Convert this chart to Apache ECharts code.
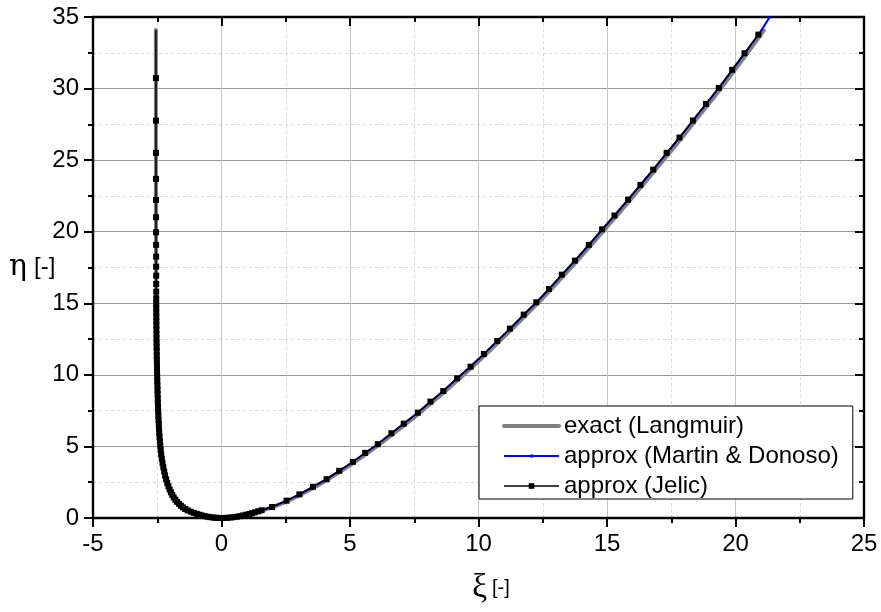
<!DOCTYPE html>
<html>
<head>
<meta charset="utf-8">
<script src="https://cdn.jsdelivr.net/npm/echarts@6/dist/echarts.min.js"></script>
<style>
  html, body { margin: 0; padding: 0; background: #fff; }
  #chart { width: 881px; height: 612px; }
</style>
</head>
<body>
<div id="chart"></div>
<script>
// Space-charge potential: normalised distance xi vs normalised potential eta.

// Axis ranges
const xMin = -5, xMax = 25, xStep = 5;
const yMin = 0, yMax = 35, yStep = 5;

// Legend entries
const seriesNames = ['exact (Langmuir)', 'approx (Martin & Donoso)', 'approx (Jelic)'];

// exact (Langmuir): negative branch (top down to the origin), then positive branch
const langmuirXi = [
  -2.554, -2.553, -2.552, -2.550, -2.545, -2.540, -2.532, -2.520, -2.505, -2.490,
  -2.475, -2.455, -2.425, -2.380, -2.350, -2.310, -2.260, -2.200, -2.120, -2.020,
  -1.900, -1.760, -1.600, -1.420, -1.200, -0.950, -0.700, -0.450, -0.200, 0,
  0.5, 1.0, 1.5, 2.0, 2.5, 3.0, 3.5, 4.0, 4.5, 5.0,
  5.5, 6.0, 6.5, 7.0, 7.5, 8.0, 8.5, 9.0, 9.5, 10.0,
  10.5, 11.0, 11.5, 12.0, 12.5, 13.0, 13.5, 14.0, 14.5, 15.0,
  15.5, 16.0, 16.5, 17.0, 17.5, 18.0, 18.5, 19.0, 19.5, 20.0,
  20.5, 21.0, 21.1
];
const langmuirEta = [
  34.1, 30, 25, 20, 17, 15, 13, 11.5, 10, 9,
  8, 7, 6, 5, 4.5, 4, 3.5, 3, 2.5, 2,
  1.55, 1.2, 0.9, 0.65, 0.45, 0.28, 0.15, 0.06, 0.012, 0,
  0.05, 0.22, 0.47, 0.76, 1.12, 1.55, 2.03, 2.54, 3.10, 3.68,
  4.30, 4.95, 5.63, 6.33, 7.03, 7.79, 8.54, 9.33, 10.13, 10.95,
  11.80, 12.67, 13.55, 14.46, 15.36, 16.32, 17.30, 18.30, 19.31, 20.35,
  21.37, 22.43, 23.50, 24.57, 25.66, 26.76, 27.90, 29.03, 30.17, 31.37,
  32.57, 33.80, 34.05
];

// approx (Martin & Donoso): positive branch
const martinXi = [
  0, 0.5, 1.0, 1.5, 2.0, 2.5, 3.0, 3.5, 4.0, 4.5,
  5.0, 5.5, 6.0, 6.5, 7.0, 7.5, 8.0, 8.5, 9.0, 9.5,
  10.0, 10.5, 11.0, 11.5, 12.0, 12.5, 13.0, 13.5, 14.0, 14.5,
  15.0, 15.5, 16.0, 16.5, 17.0, 17.5, 18.0, 18.5, 19.0, 19.5,
  20.0, 20.5, 21.0, 21.33
];
const martinEta = [
  0, 0.06, 0.24, 0.50, 0.80, 1.18, 1.62, 2.12, 2.63, 3.20,
  3.79, 4.42, 5.06, 5.76, 6.46, 7.16, 7.93, 8.68, 9.48, 10.28,
  11.10, 11.96, 12.83, 13.71, 14.63, 15.53, 16.50, 17.48, 18.48, 19.50,
  20.54, 21.57, 22.63, 23.70, 24.77, 25.87, 26.97, 28.12, 29.25, 30.39,
  31.60, 32.80, 34.05, 35.0
];

// approx (Jelic): both branches, one marker per computed point
const jelicXi = [
  -2.552, -2.551, -2.550, -2.550, -2.549, -2.548, -2.547, -2.546, -2.545, -2.544,
  -2.543, -2.542, -2.541, -2.540, -2.540,
  -2.540, -2.539, -2.538, -2.537, -2.535, -2.534, -2.533, -2.531, -2.529, -2.526,
  -2.524, -2.521, -2.519, -2.516, -2.513, -2.510, -2.507, -2.503, -2.499, -2.494,
  -2.489, -2.485, -2.480, -2.476, -2.470, -2.464, -2.458, -2.450, -2.441, -2.433,
  -2.423, -2.410, -2.397, -2.383, -2.365, -2.346, -2.322, -2.295, -2.265, -2.230,
  -2.195, -2.155, -2.112, -2.065, -2.020, -1.970, -1.915, -1.860, -1.795, -1.725,
  -1.655, -1.580, -1.500, -1.410, -1.315, -1.190, -1.080, -0.965, -0.860, -0.770,
  -0.660, -0.550, -0.450, -0.340, -0.240, -0.130, 0,
  0.12, 0.24, 0.36, 0.48, 0.60, 0.72, 0.84, 0.96, 1.08, 1.19,
  1.30, 1.43, 1.56, 1.97, 2.53, 3.03, 3.56, 4.09, 4.58, 5.11,
  5.59, 6.08, 6.61, 7.09, 7.64, 8.13, 8.63, 9.17, 9.69, 10.21,
  10.73, 11.22, 11.76, 12.25, 12.74, 13.24, 13.75, 14.29, 14.81, 15.29,
  15.82, 16.30, 16.80, 17.32, 17.82, 18.34, 18.85, 19.35, 19.87, 20.35,
  20.89
];
const jelicEta = [
  34.1, 30.73, 27.76, 25.51, 23.69, 22.22, 21.01, 19.96, 19.08, 18.26,
  17.56, 16.93, 16.35, 15.81, 15.35,
  14.95, 14.65, 14.35, 14.05, 13.75, 13.45, 13.15, 12.85, 12.55, 12.25,
  11.95, 11.65, 11.35, 11.05, 10.75, 10.45, 10.15, 9.85, 9.55, 9.25,
  8.95, 8.65, 8.35, 8.05, 7.75, 7.45, 7.15, 6.85, 6.55, 6.25,
  5.95, 5.65, 5.35, 5.05, 4.75, 4.45, 4.15, 3.85, 3.55, 3.25,
  2.97, 2.7, 2.45, 2.22, 2.0, 1.8, 1.61, 1.44, 1.28, 1.13,
  0.99, 0.86, 0.74, 0.63, 0.53, 0.44, 0.36, 0.29, 0.23, 0.18,
  0.13, 0.09, 0.06, 0.035, 0.018, 0.006, 0,
  0.004, 0.015, 0.035, 0.06, 0.09, 0.13, 0.18, 0.23, 0.28, 0.33,
  0.40, 0.47, 0.54, 0.77, 1.21, 1.65, 2.18, 2.71, 3.30, 3.92,
  4.55, 5.16, 5.92, 6.59, 7.36, 8.13, 8.87, 9.76, 10.57, 11.46,
  12.37, 13.23, 14.21, 15.07, 16.00, 17.00, 17.98, 19.08, 20.17, 21.13,
  22.24, 23.27, 24.34, 25.51, 26.58, 27.77, 28.93, 30.05, 31.31, 32.47,
  33.77
];

const pairs = (xs, ys) => xs.map((x, i) => [x, ys[i]]);

// the Jelic curve starts with a bare line segment above its first marker
const jelicData = pairs(jelicXi, jelicEta).map((p, i) =>
  i === 0 ? { value: p, symbol: 'none' } : p);

const SANS = 'Liberation Sans, Arial, Helvetica, sans-serif';
const SERIF = 'DejaVu Serif, Liberation Serif, serif';
const TIMES = 'Liberation Serif, Times New Roman, serif';

function axisBase(min, max, step) {
  return {
    type: 'value', min: min, max: max, interval: step,
    axisLine: { show: true, onZero: false, lineStyle: { color: '#000', width: 2.4 } },
    axisTick: { show: true, length: 9, lineStyle: { color: '#000', width: 2 } },
    minorTick: { show: true, splitNumber: 2, length: 5, lineStyle: { color: '#000', width: 2 } },
    axisLabel: { show: true, fontSize: 24, color: '#000', fontFamily: SANS, margin: 14 }
  };
}

const xBottom = Object.assign(axisBase(xMin, xMax, xStep), {
  position: 'bottom',
  splitLine: { show: true, lineStyle: { color: '#c6c6c6', width: 1 } },
  minorSplitLine: { show: true, lineStyle: { color: '#d8d8d8', width: 1, type: [3, 3] } }
});
const xTop = Object.assign(axisBase(xMin, xMax, xStep), {
  position: 'top',
  axisTick: { show: true, inside: true, length: 9, lineStyle: { color: '#000', width: 2 } },
  axisLabel: { show: false },
  splitLine: { show: false }
});
const yLeft = Object.assign(axisBase(yMin, yMax, yStep), {
  position: 'left',
  splitLine: { show: true, lineStyle: { color: '#9a9a9a', width: 1 } },
  minorSplitLine: { show: true, lineStyle: { color: '#d8d8d8', width: 1, type: [3, 3] } }
});
const yRight = Object.assign(axisBase(yMin, yMax, yStep), {
  position: 'right',
  axisTick: { show: true, inside: true, length: 9, lineStyle: { color: '#000', width: 2 } },
  axisLabel: { show: false },
  splitLine: { show: false }
});

// legend glyph for the blue approximation: a 2px line with a small dot in the middle
const blueLegendIcon = 'path://M0 2.5H55V4.5H0Z M26 2H29V5H26Z';

const chart = echarts.init(document.getElementById('chart'), null, { renderer: 'canvas' });

chart.setOption({
  animation: false,
  backgroundColor: '#fff',
  grid: { left: 93, right: 17, top: 17, bottom: 94, containLabel: false },
  xAxis: [xBottom, xTop],
  yAxis: [yLeft, yRight],
  legend: {
    show: true,
    data: [
      { name: seriesNames[0], itemStyle: { opacity: 0 }, lineStyle: { width: 4, color: '#808080' } },
      { name: seriesNames[1], icon: blueLegendIcon, itemStyle: { color: '#0000ff' } },
      { name: seriesNames[2], itemStyle: { color: '#000' }, lineStyle: { width: 1.5, color: '#000' } }
    ],
    orient: 'vertical',
    left: 479, top: 406,
    padding: [8, 14, 1, 23],
    itemWidth: 55, itemHeight: 7, itemGap: 6,
    symbolKeepAspect: true,
    backgroundColor: '#fff', borderColor: '#000', borderWidth: 1, borderRadius: 0,
    selectedMode: false,
    textStyle: { fontSize: 24, lineHeight: 24, color: '#000', fontFamily: SANS }
  },
  graphic: [
    { type: 'text', left: 9, top: 252, style: { text: 'η', font: '30px ' + SERIF, fill: '#000' } },
    { type: 'text', left: 34, top: 255, style: { text: '[-]', font: '24px ' + SANS, fill: '#000' } },
    { type: 'text', left: 472, top: 571, style: { text: 'ξ', font: '34px ' + TIMES, fill: '#000' } },
    { type: 'text', left: 492, top: 578, style: { text: '[-]', font: '20px ' + SANS, fill: '#000' } }
  ],
  series: [
    {
      name: seriesNames[0], type: 'line', xAxisIndex: 0, yAxisIndex: 0,
      data: pairs(langmuirXi, langmuirEta),
      symbol: 'none', smooth: false,
      color: '#808080',
      lineStyle: { color: '#808080', width: 4, join: 'round', cap: 'round' },
      z: 2
    },
    {
      name: seriesNames[1], type: 'line', xAxisIndex: 0, yAxisIndex: 0,
      data: pairs(martinXi, martinEta),
      symbol: 'circle', symbolSize: 2, showAllSymbol: true,
      color: '#0000ff',
      itemStyle: { color: '#0000ff' },
      lineStyle: { color: '#0000ff', width: 2 },
      z: 3
    },
    {
      name: seriesNames[2], type: 'line', xAxisIndex: 0, yAxisIndex: 0,
      data: jelicData,
      symbol: 'rect', symbolSize: 6, showAllSymbol: true,
      color: '#000',
      itemStyle: { color: '#000' },
      lineStyle: { color: '#000', width: 1.5 },
      z: 4
    }
  ]
});
</script>
</body>
</html>
